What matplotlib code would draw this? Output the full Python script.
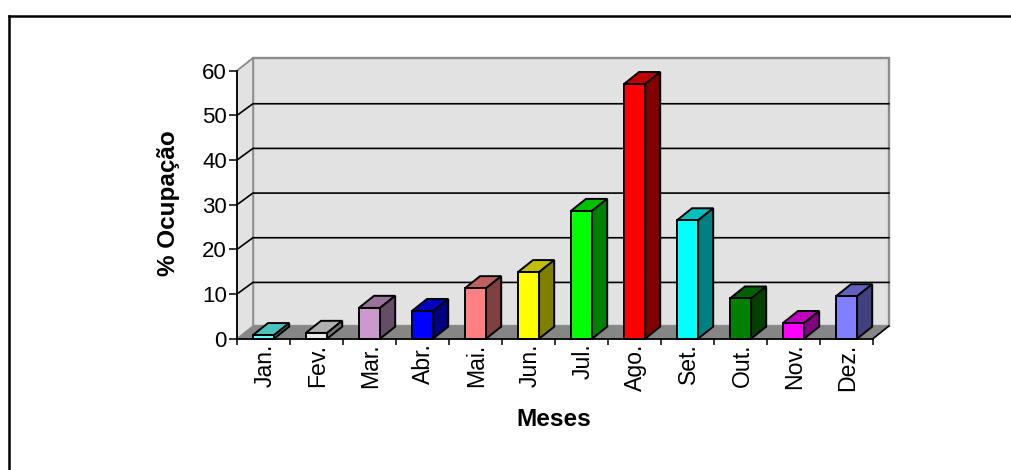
import matplotlib
matplotlib.use("Agg")
import matplotlib.pyplot as plt
from matplotlib.colors import to_rgb
from matplotlib.lines import Line2D

plt.rcParams['font.family'] = ['Liberation Sans', 'DejaVu Sans']

meses = ["Jan.", "Fev.", "Mar.", "Abr.", "Mai.", "Jun.", "Jul.", "Ago.", "Set.", "Out.", "Nov.", "Dez."]
ocupacao = [0.8, 1.3, 6.9, 6.2, 11.3, 14.9, 28.6, 57.0, 26.5, 9.0, 3.5, 9.5]
cores = ["#66FFFF", "#EAEAEA", "#CC99CC", "#0000FF", "#FF8080", "#FFFF00",
         "#00FF00", "#FF0000", "#00FFFF", "#008000", "#FF00FF", "#8080FF"]
y_ticks = [0, 10, 20, 30, 40, 50, 60]

# depth of the fake 3D box, in data units
WALL_DX = 0.30
WALL_DY = 2.84
GRID_DY = 2.6
BAR_DX = 0.285
BAR_DY = 2.7
BAR_W = 0.40


def shade(cor, f):
    return tuple(c * f for c in to_rgb(cor))


W, H = 1011, 470
fig = plt.figure(figsize=(W / 100, H / 100), dpi=100)
ax = fig.add_axes([237 / W, 1 - 338.7 / H, (873 - 237) / W, (338.7 - 70.7) / H])
ax.patch.set_visible(False)
ax.set_xlim(0, 12)
ax.set_ylim(0, 60)

# back wall, side wall, floor
ax.fill([WALL_DX, 12 + WALL_DX, 12 + WALL_DX, WALL_DX],
        [WALL_DY, WALL_DY, 60 + WALL_DY, 60 + WALL_DY],
        facecolor="#E2E2E2", edgecolor="#8C8C8C", lw=1.7, clip_on=False, zorder=1)
ax.fill([0, WALL_DX, WALL_DX, 0], [0, WALL_DY, 60 + WALL_DY, 60],
        facecolor="#E2E2E2", edgecolor="#8C8C8C", lw=1.0, clip_on=False, zorder=1)
ax.fill([0, 12, 12 + WALL_DX, WALL_DX], [0, 0, WALL_DY, WALL_DY],
        facecolor="#868686", edgecolor="none", clip_on=False, zorder=1.5)
ax.plot([12, 12 + WALL_DX], [0, WALL_DY], color="black", lw=1.2, clip_on=False, zorder=2)

# gridlines run along the back wall and down the side wall
for v in y_ticks[1:-1]:
    ax.plot([0, WALL_DX, 12 + WALL_DX], [v, v + GRID_DY, v + GRID_DY],
            color="black", lw=1.2, clip_on=False, zorder=2)
ax.plot([0, WALL_DX], [60, 60 + WALL_DY], color="#8C8C8C", lw=1.2, clip_on=False, zorder=2)

# bars: front face from ax.bar, then top and side faces
centros = [i + 0.5 for i in range(len(meses))]
ax.bar(centros, ocupacao, width=BAR_W, color=cores, edgecolor="black", lw=1.4,
       clip_on=False, zorder=4)
for x, v, cor in zip(centros, ocupacao, cores):
    x0, x1 = x - BAR_W / 2, x + BAR_W / 2
    ax.fill([x0, x1, x1 + BAR_DX, x0 + BAR_DX], [v, v, v + BAR_DY, v + BAR_DY],
            facecolor=shade(cor, 0.75), edgecolor="black", lw=1.4, clip_on=False, zorder=3)
    ax.fill([x1, x1 + BAR_DX, x1 + BAR_DX, x1], [0, BAR_DY, v + BAR_DY, v],
            facecolor=shade(cor, 0.5), edgecolor="black", lw=1.4, clip_on=False, zorder=3)

for lado in ["top", "right"]:
    ax.spines[lado].set_visible(False)
for lado in ["left", "bottom"]:
    ax.spines[lado].set_linewidth(1.3)
    ax.spines[lado].set_zorder(5)

ax.set_yticks(y_ticks)
ax.tick_params(axis="y", length=5.8, width=1.1, labelsize=16, pad=1.5)
ax.set_xticks(range(13))
ax.set_xticklabels([])
ax.tick_params(axis="x", length=4.5, width=1.1)

# month names sit between the ticks
for x, mes in zip(centros, meses):
    ax.annotate(mes, (x, 0), xytext=(1, -3.5), textcoords="offset points", rotation=90,
                ha="center", va="top", fontsize=16.6)

fig.text(554 / W, 1 - 420 / H, "Meses", ha="center", va="center",
         fontsize=17.6, fontweight="bold")
fig.text(168 / W, 1 - 203 / H, "% Ocupação", ha="center", va="center", rotation=90,
         fontsize=17.5, fontweight="bold")

# document frame, only top and left are on the page
fig.add_artist(Line2D([9 / W, 1], [1 - 16 / H, 1 - 16 / H], color="black", lw=1.8))
fig.add_artist(Line2D([9 / W, 9 / W], [0, 1 - 16 / H], color="black", lw=1.8))

fig.savefig("out.png", dpi=100)
